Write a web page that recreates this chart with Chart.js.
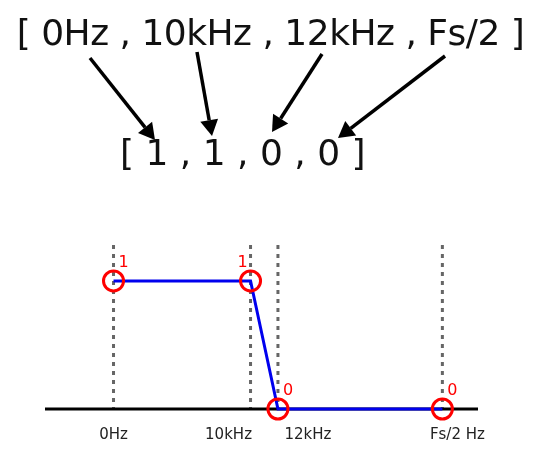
<!DOCTYPE html>
<html>
<head>
<meta charset="utf-8">
<script src="https://cdn.jsdelivr.net/npm/chart.js@4"></script>
<style>
  body { margin: 0; background: #fff; }
  #wrap { position: relative; width: 541px; height: 451px; }
  #chart { position: absolute; left: 0; top: 0; }
  .big { position: absolute; font-family: "DejaVu Sans", Verdana, sans-serif; color: #111; white-space: pre; }
  #top { left: 0; width: 541px; text-align: center; top: 12px; font-size: 36px; letter-spacing: -0.5px; }
  #bottom { left: 120px; top: 132px; font-size: 36px; }
</style>
</head>
<body>
<div id="wrap">
  <canvas id="chart" width="541" height="451"></canvas>
  <div class="big" id="top">[ 0Hz , 10kHz , 12kHz , Fs/2 ]</div>
  <div class="big" id="bottom">[ 1 , 1 , 0 , 0 ]</div>
</div>
<script>
// frequencies in kHz (Fs = 48 kHz)
const freqs = [0, 10, 12, 24];
const gains = [1, 1, 0, 0];
const tickLabels = ['0Hz', '10kHz', '12kHz', 'Fs/2 Hz'];
const tickShift = [0, -22, 30, 15];

// arrows from the frequency list to the gain list
const arrows = [
  [90, 58, 155, 140],
  [197, 52, 212, 136],
  [322, 54, 272, 132],
  [445, 56, 338, 138]
];

const overlay = {
  id: 'overlay',
  beforeDatasetsDraw(chart) {
    const c = chart.ctx, x = chart.scales.x, y = chart.scales.y;
    c.save();
    // dashed guides
    c.strokeStyle = '#666';
    c.lineWidth = 3;
    c.setLineDash([4, 5]);
    freqs.forEach(f => {
      const px = x.getPixelForValue(f);
      c.beginPath();
      c.moveTo(px, y.getPixelForValue(1.28));
      c.lineTo(px, y.getPixelForValue(0));
      c.stroke();
    });
    c.setLineDash([]);
    // axis line
    c.strokeStyle = '#000';
    c.lineWidth = 3;
    c.beginPath();
    c.moveTo(x.left, y.getPixelForValue(0));
    c.lineTo(x.right, y.getPixelForValue(0));
    c.stroke();
    c.restore();
  },
  afterDatasetsDraw(chart) {
    const c = chart.ctx, x = chart.scales.x, y = chart.scales.y;
    c.save();
    // tick labels
    c.font = '15px "DejaVu Sans", Verdana, sans-serif';
    c.fillStyle = '#222';
    c.textAlign = 'center';
    freqs.forEach((f, i) => {
      c.fillText(tickLabels[i], x.getPixelForValue(f) + tickShift[i], y.getPixelForValue(0) + 30);
    });
    // red value labels
    c.font = '16px "DejaVu Sans", Verdana, sans-serif';
    c.fillStyle = 'red';
    c.textAlign = 'left';
    freqs.forEach((f, i) => {
      c.fillText(String(gains[i]), x.getPixelForValue(f) - 13 + (i === 1 ? 0 : 18), y.getPixelForValue(gains[i]) - 14);
    });
    // arrows
    c.strokeStyle = '#000';
    c.fillStyle = '#000';
    c.lineWidth = 3.5;
    arrows.forEach(([x1, y1, x2, y2]) => {
      const a = Math.atan2(y2 - y1, x2 - x1);
      const hx = x2 - 16 * Math.cos(a), hy = y2 - 16 * Math.sin(a);
      c.beginPath(); c.moveTo(x1, y1); c.lineTo(hx, hy); c.stroke();
      c.beginPath();
      c.moveTo(x2, y2);
      c.lineTo(hx + 9 * Math.sin(a), hy - 9 * Math.cos(a));
      c.lineTo(hx - 9 * Math.sin(a), hy + 9 * Math.cos(a));
      c.closePath(); c.fill();
    });
    c.restore();
  }
};

new Chart(document.getElementById('chart'), {
  type: 'line',
  data: {
    datasets: [{
      data: freqs.map((f, i) => ({ x: f, y: gains[i] })),
      borderColor: '#0000ee',
      borderWidth: 3,
      pointRadius: 10,
      pointBorderColor: 'red',
      pointBorderWidth: 3,
      pointBackgroundColor: 'rgba(0,0,0,0)',
      tension: 0,
      clip: false
    }]
  },
  options: {
    responsive: false,
    animation: false,
    layout: { padding: { left: 45, right: 63, top: 240, bottom: 42 } },
    scales: {
      x: { type: 'linear', min: -5, max: 26.6, display: false },
      y: { min: 0, max: 1.32, display: false }
    },
    plugins: { legend: { display: false }, tooltip: { enabled: false } }
  },
  plugins: [overlay]
});
</script>
</body>
</html>
